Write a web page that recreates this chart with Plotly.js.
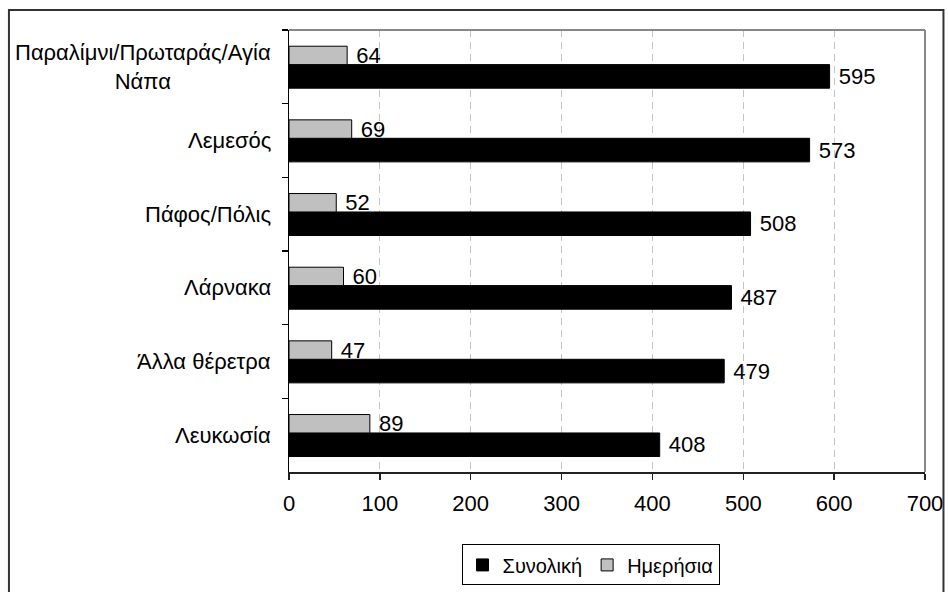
<!DOCTYPE html>
<html>
<head>
<meta charset="utf-8">
<script src="https://cdn.plot.ly/plotly-3.0.1.min.js"></script>
<style>html,body{margin:0;padding:0;background:#fff;overflow:hidden;}#chart{width:948px;height:620px;}</style>
</head>
<body>
<div id="chart"></div>
<script>
var categories = ['Παραλίμνι/Πρωταράς/Αγία Νάπα', 'Λεμεσός', 'Πάφος/Πόλις', 'Λάρνακα', 'Άλλα θέρετρα', 'Λευκωσία'];
var categoryLabels = ['Παραλίμνι/Πρωταράς/Αγία<br>Νάπα', 'Λεμεσός', 'Πάφος/Πόλις', 'Λάρνακα', 'Άλλα θέρετρα', 'Λευκωσία'];
var totalName = 'Συνολική';
var totalValues = [595, 573, 508, 487, 479, 408];
var dailyName = 'Ημερήσια';
var dailyValues = [64, 69, 52, 60, 47, 89];
var xTickValues = [0, 100, 200, 300, 400, 500, 600, 700];

var W = 948, H = 620;
var L = 288.5, R = 925.5, T = 30, B = 472.5;
var pw = R - L, ph = B - T;
function px(x){ return (x - L) / pw; }
function py(y){ return (B - y) / ph; }

var FONT = 'Liberation Sans, Arial, sans-serif';
var FS = 22;

var traces = [
  {
    type: 'bar', orientation: 'h', name: totalName,
    y: categories, x: totalValues,
    offset: -0.03, width: 0.32,
    marker: {color: '#000000', line: {color: '#000000', width: 1}},
    text: totalValues, texttemplate: ' %{x}', textposition: 'outside',
    constraintext: 'none', cliponaxis: false,
    textfont: {family: FONT, size: FS, color: '#000'},
    hoverinfo: 'skip'
  },
  {
    type: 'bar', orientation: 'h', name: dailyName,
    y: categories, x: dailyValues,
    offset: -0.28, width: 0.25,
    marker: {color: '#c0c0c0', line: {color: '#000000', width: 1}},
    text: dailyValues, texttemplate: ' %{x}', textposition: 'outside',
    constraintext: 'none', cliponaxis: false,
    textfont: {family: FONT, size: FS, color: '#000'},
    hoverinfo: 'skip'
  }
];

var annotations = categories.map(function(c, i){
  return {
    xref: 'paper', yref: 'y', x: px(272), y: c,
    xanchor: 'right', yanchor: 'middle', align: 'center',
    text: categoryLabels[i], showarrow: false,
    font: {family: FONT, size: FS, color: '#000'}
  };
});

var layout = {
  width: W, height: H,
  margin: {l: L, r: W - R, t: T, b: H - B, pad: 0, autoexpand: false},
  paper_bgcolor: '#fff', plot_bgcolor: '#fff',
  barmode: 'overlay',
  showlegend: true,
  font: {family: FONT, size: FS, color: '#000'},
  xaxis: {
    range: [0, 700], tickvals: xTickValues, ticktext: xTickValues.map(String),
    showgrid: true, gridcolor: '#c4c4c4', griddash: '7px,5px', gridwidth: 1,
    zeroline: false, showline: true, linecolor: '#222', linewidth: 1.5,
    ticks: 'outside', ticklen: 6, tickcolor: '#222', tickwidth: 1.5,
    ticklabelstandoff: 5,
    tickfont: {family: FONT, size: FS, color: '#000'}
  },
  yaxis: {
    type: 'category', categoryarray: categories, categoryorder: 'array',
    autorange: 'reversed',
    showgrid: false, zeroline: false, showline: true, linecolor: '#000', linewidth: 1.5,
    ticks: 'outside', tickson: 'boundaries', ticklen: 6, tickcolor: '#000', tickwidth: 1.5,
    showticklabels: false
  },
  legend: {
    orientation: 'h', xref: 'paper', yref: 'paper',
    x: px(590.5), xanchor: 'center', y: py(545), yanchor: 'top',
    bordercolor: '#000', borderwidth: 1, bgcolor: '#fff',
    font: {family: FONT, size: 20, color: '#000'},
    traceorder: 'normal', itemwidth: 30
  },
  shapes: [
    {type: 'line', xref: 'paper', yref: 'paper', x0: 0, x1: 1, y0: 1, y1: 1, line: {color: '#888', width: 2}},
    {type: 'line', xref: 'paper', yref: 'paper', x0: 1, x1: 1, y0: 0, y1: 1, line: {color: '#888', width: 2}},
    {type: 'rect', xref: 'paper', yref: 'paper', x0: px(8), x1: px(944), y0: py(610), y1: py(10),
     line: {color: '#333', width: 2}, fillcolor: 'rgba(0,0,0,0)'}
  ],
  annotations: annotations
};

Plotly.newPlot('chart', traces, layout, {displayModeBar: false, staticPlot: true});
</script>
</body>
</html>
